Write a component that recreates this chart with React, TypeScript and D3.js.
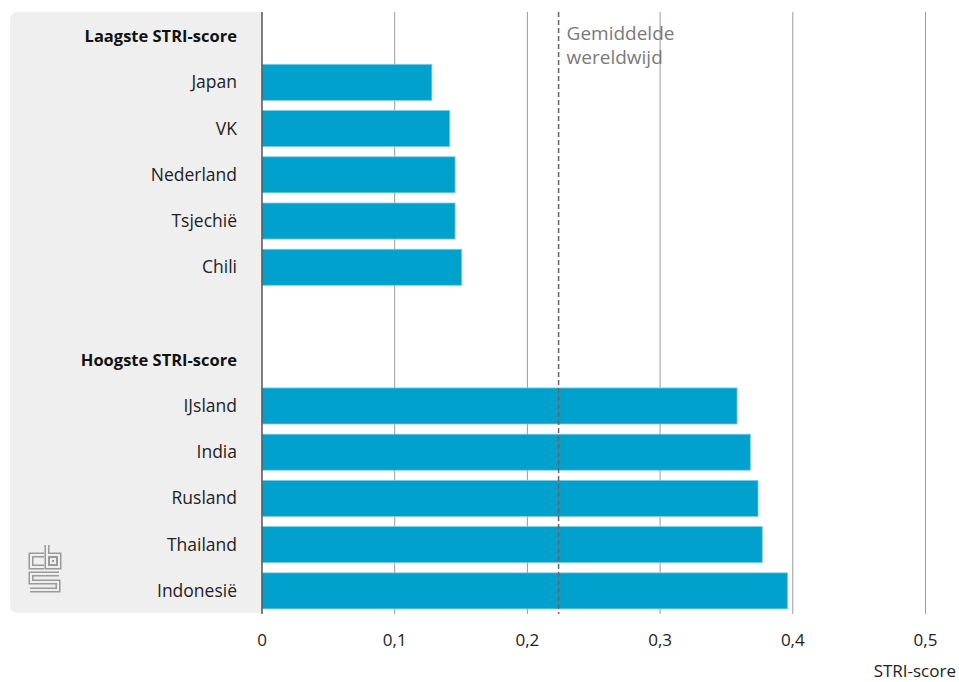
import React from "react";
import * as d3 from "d3";

const lowCountries = ["Japan", "VK", "Nederland", "Tsjechië", "Chili"];
const lowValues = [0.128, 0.1415, 0.1455, 0.1455, 0.1505];
const highCountries = ["IJsland", "India", "Rusland", "Thailand", "Indonesië"];
const highValues = [0.358, 0.368, 0.3738, 0.377, 0.396];
const headerLow = "Laagste STRI-score";
const headerHigh = "Hoogste STRI-score";
const worldAverage = 0.2235;
const avgLabel = ["Gemiddelde", "wereldwijd"];
const xTicks = [0, 0.1, 0.2, 0.3, 0.4, 0.5];
const xTitle = "STRI-score";

type Row = { key: string; label: string; value: number | null; header: boolean };

const rows: Row[] = [
  { key: "h1", label: headerLow, value: null, header: true },
  ...lowCountries.map((c, i) => ({ key: c, label: c, value: lowValues[i], header: false })),
  { key: "gap", label: "", value: null, header: false },
  { key: "h2", label: headerHigh, value: null, header: true },
  ...highCountries.map((c, i) => ({ key: c, label: c, value: highValues[i], header: false })),
];

const W = 959;
const H = 682;
const x0 = 262;
const x1 = 925.5;
const yTop = 13;
const yBot = 614;
const FONT = "'Open Sans', 'DejaVu Sans', sans-serif";

export default function App() {
  const x = d3.scaleLinear().domain([0, 0.5]).range([x0, x1]);
  const y = d3
    .scaleBand<string>()
    .domain(rows.map((r) => r.key))
    .range([yTop, yBot])
    .paddingInner(0.22)
    .paddingOuter(0.11);
  const bw = y.bandwidth();
  const fmt = (v: number) => (v === 0 ? "0" : d3.format(".1f")(v).replace(".", ","));
  const logoPath =
    "M15,11 H2 V23 H15 M18,1 V23 H30 V11 H18 M22,15 H26 V19 H22 Z M30,30 H2 V38 H29 V46 H1";

  return (
    <div style={{ position: "absolute", left: 0, top: 0 }}>
      <svg width={W} height={H} style={{ display: "block", fontFamily: FONT }}>
        <rect x={0} y={0} width={W} height={H} fill="#fff" />
        {/* label panel */}
        <path
          d={`M${x0},12 H18 Q10,12 10,20 V605 Q10,613 18,613 H${x0} Z`}
          fill="#efefef"
        />
        {/* gridlines */}
        {xTicks.slice(1).map((t) => (
          <line key={t} x1={x(t)} x2={x(t)} y1={12} y2={614} stroke="#9a9a9a" strokeWidth={1} />
        ))}
        {/* bars */}
        {rows
          .filter((r) => r.value !== null)
          .map((r) => (
            <rect
              key={r.key}
              x={x(0)}
              y={y(r.key)!}
              width={x(r.value as number) - x(0)}
              height={bw}
              fill="#00a1cd"
              stroke="#7fcde4"
              strokeWidth={0.8}
            />
          ))}
        {/* axis line */}
        <line x1={x0} x2={x0} y1={12} y2={614} stroke="#555" strokeWidth={1.5} />
        {/* average line */}
        <line
          x1={x(worldAverage)}
          x2={x(worldAverage)}
          y1={12}
          y2={614}
          stroke="#666"
          strokeWidth={1.5}
          strokeDasharray="5,3"
        />
        {avgLabel.map((t, i) => (
          <text key={t} x={x(worldAverage) + 8} y={40 + i * 24} fontSize={19} fill="#7a7a7a">
            {t}
          </text>
        ))}
        {/* category labels */}
        {rows.map((r) =>
          r.label ? (
            <text
              key={r.key}
              x={237}
              y={y(r.key)! + bw / 2 + 6}
              textAnchor="end"
              fontSize={r.header ? 16.5 : 17.5}
              fontWeight={r.header ? 700 : 400}
              fill={r.header ? "#111" : "#222"}
            >
              {r.label}
            </text>
          ) : null
        )}
        {/* x tick labels */}
        {xTicks.map((t) => (
          <text key={t} x={x(t)} y={646} textAnchor="middle" fontSize={17} fill="#222">
            {fmt(t)}
          </text>
        ))}
        <text x={956} y={677} textAnchor="end" fontSize={17} fill="#222">
          {xTitle}
        </text>
        {/* logo */}
        <g transform="translate(29,544)" fill="none">
          <path d={logoPath} stroke="#9a9a9a" strokeWidth={5} />
          <path d={logoPath} stroke="#efefef" strokeWidth={2} />
        </g>
      </svg>
    </div>
  );
}
